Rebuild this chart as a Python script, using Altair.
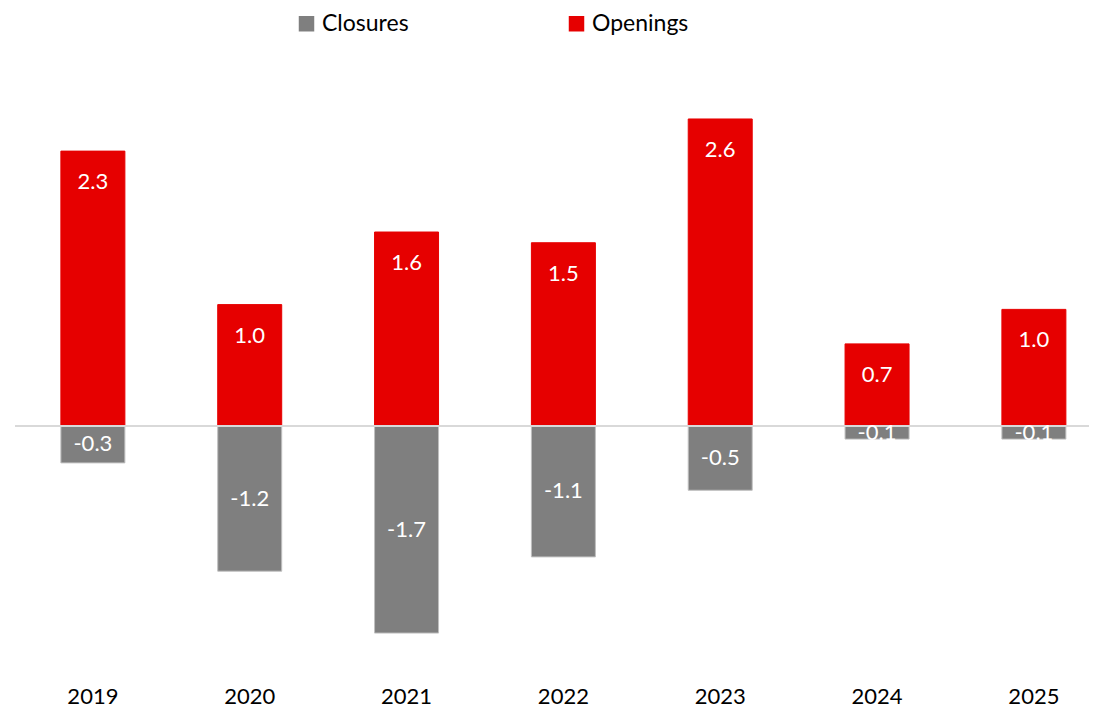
import altair as alt
import pandas as pd

years = ["2019", "2020", "2021", "2022", "2023", "2024", "2025"]
openings = [2.31, 1.02, 1.63, 1.54, 2.58, 0.69, 0.98]
closures = [-0.31, -1.22, -1.74, -1.10, -0.54, -0.11, -0.11]
series_names = ["Closures", "Openings"]
series_colors = ["#7F7F7F", "#E60000"]
series_strokes = ["#BFBFBF", "#E60000"]

rows = []
for y, o, c in zip(years, openings, closures):
    rows.append({"year": y, "series": "Closures", "value": c, "label": f"{c:.1f}"})
    rows.append({"year": y, "series": "Openings", "value": o, "label": f"{o:.1f}"})
df = pd.DataFrame(rows)

FONT = "Lato"
W, H = 1074, 595

xenc = alt.X(
    "year:N",
    sort=years,
    scale=alt.Scale(paddingInner=0.592, paddingOuter=0.22, align=0.665),
    axis=alt.Axis(title=None, labelAngle=0, domain=False, ticks=False,
                  labelFontSize=22, labelFont=FONT, labelColor="#000000",
                  labelPadding=22, grid=False),
)
yscale = alt.Scale(domain=[-2, 3], nice=False, zero=False)

base = alt.Chart(df)

bars = base.mark_bar(strokeWidth=1).encode(
    x=xenc,
    y=alt.Y("value:Q", scale=yscale, axis=None),
    y2=alt.datum(0),
    color=alt.Color(
        "series:N",
        scale=alt.Scale(domain=series_names, range=series_colors),
        legend=alt.Legend(
            title=None, orient="none", legendX=280, legendY=-57,
            direction="horizontal", symbolType="square", symbolSize=240,
            symbolStrokeWidth=0, labelFont=FONT, labelFontSize=23,
            labelColor="#000000", labelOffset=4, columnPadding=146,
            gridAlign="all", padding=0,
        ),
    ),
    stroke=alt.Stroke("series:N",
                      scale=alt.Scale(domain=series_names, range=series_strokes),
                      legend=None),
)

zero = alt.Chart(pd.DataFrame({"z": [0]})).mark_rule(
    color="#D9D9D9", strokeWidth=2
).encode(y=alt.Y("z:Q", scale=yscale, axis=None), x=alt.value(0), x2=alt.value(W + 20))

open_lbl = base.transform_filter(alt.datum.series == "Openings").mark_text(
    color="white", font=FONT, fontSize=22, baseline="middle", dy=31
).encode(x=xenc, y=alt.Y("value:Q", scale=yscale, axis=None), text="label:N")

close_lbl = base.transform_filter(alt.datum.series == "Closures").transform_calculate(
    mid="datum.value / 2"
).mark_text(
    color="white", font=FONT, fontSize=22, baseline="middle"
).encode(x=xenc, y=alt.Y("mid:Q", scale=yscale, axis=None), text="label:N")

chart = alt.layer(bars, zero, open_lbl, close_lbl).properties(
    width=W, height=H,
    autosize=alt.AutoSizeParams(type="none"),
    padding={"left": 7, "top": 61, "right": 0, "bottom": 46},
).configure_view(stroke=None)

chart.save("out.html", embed_options={"renderer": "svg", "actions": False})
